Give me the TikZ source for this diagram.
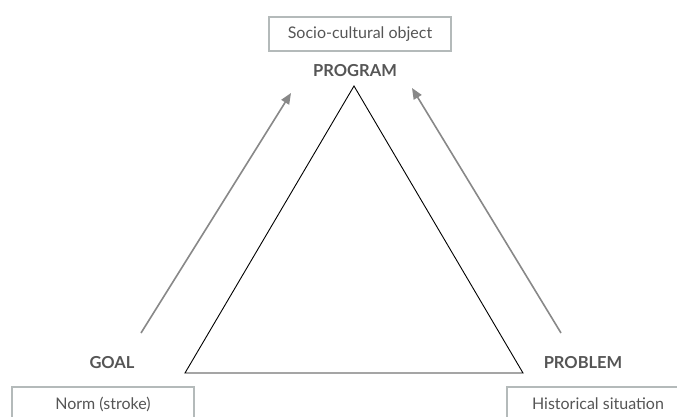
\documentclass[tikz,border=0pt]{standalone}
\usepackage{fontspec}
\setmainfont{Lato}
\usetikzlibrary{arrows.meta}
\definecolor{txt}{HTML}{555555}
\definecolor{boxline}{HTML}{B4BABA}
\definecolor{arr}{HTML}{888888}
\begin{document}
\begin{tikzpicture}[x=1pt,y=-1pt,
  labelbox/.style={draw=boxline,line width=1.8pt,text=txt,font=\fontsize{16}{18}\selectfont,minimum width=182pt,minimum height=34pt,inner sep=0pt},
  vertexlabel/.style={text=txt,font=\fontsize{16.5}{18}\selectfont\bfseries},
  bigarrow/.style={draw=arr,line width=1.6pt,-{Triangle[length=11pt,width=9pt]}},
  tri/.style={draw=black,line width=0.9pt,line join=miter}]
\useasboundingbox (0,0) rectangle (677,417);
\clip (0,0) rectangle (677,417);
\node[labelbox] (socio) at (360,34) {Socio-cultural object};
\node[labelbox] (norm) at (103,404) {Norm (stroke)};
\node[labelbox] (hist) at (598,404) {Historical situation};
\node[vertexlabel] (program) at (355,71) {PROGRAM};
\node[vertexlabel] (goal) at (112,363) {GOAL};
\node[vertexlabel] (problem) at (583,363) {PROBLEM};
\coordinate (A) at (354,86);
\coordinate (B) at (185,373);
\coordinate (C) at (523,373);
\draw[tri] (A) -- (B) -- (C) -- cycle;
\coordinate (lt) at (141,333);
\coordinate (lh) at (291,93);
\coordinate (rt) at (561,333);
\coordinate (rh) at (412,88);
\draw[bigarrow] (lt) -- (lh);
\draw[bigarrow] (rt) -- (rh);
\end{tikzpicture}
\end{document}
